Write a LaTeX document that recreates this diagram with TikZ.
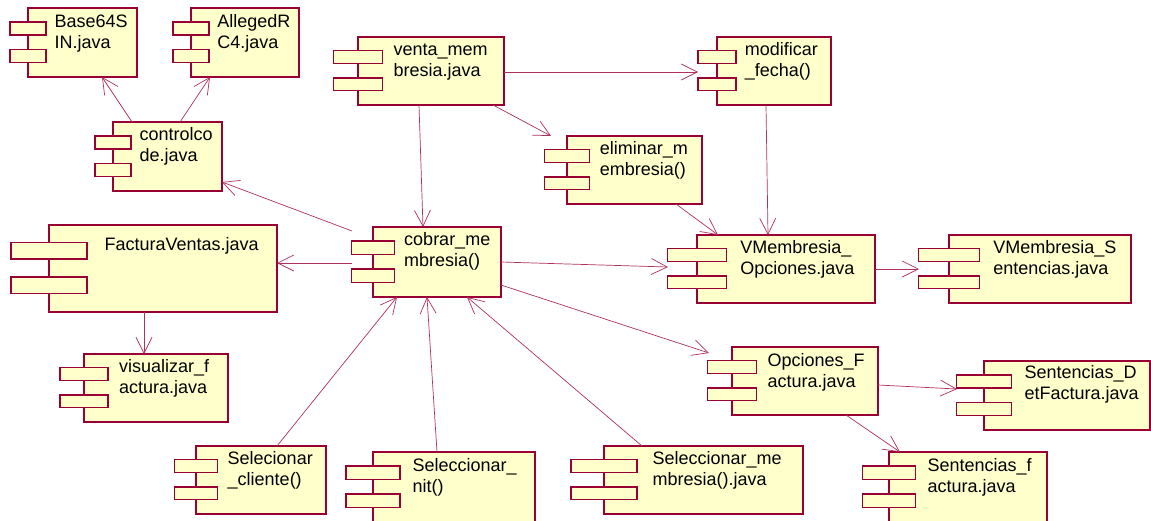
\documentclass[tikz,border=0pt]{standalone}
\usepackage{fontspec}
\setmainfont{Liberation Sans}
\usetikzlibrary{arrows.meta,calc}
\definecolor{rosered}{HTML}{990033}
\definecolor{roseyellow}{HTML}{FFFFCC}
\definecolor{roseline}{HTML}{B0305E}
\tikzset{
 compbox/.style={draw=rosered, fill=roseyellow, line width=1.5pt, inner sep=0pt, outer sep=0pt},
 comptab/.style={draw=rosered, fill=roseyellow, line width=1.5pt},
 complabel/.style={inner sep=0pt, outer sep=0pt, font=\fontsize{18}{21.5}\selectfont, text=black},
 dep/.style={draw=roseline, line width=0.7pt, -{Straight Barb[length=16pt,width=16pt]}},
}
\newcommand\rosecomp[8]{%
 \node[compbox, minimum width=#4pt, minimum height=#5pt, anchor=north west] (#1) at (#2,#3) {};
 \draw[comptab] ($(#1.north west)+({-#4/6},{0.2*#5})$) rectangle ($(#1.north west)+({#4/6},{0.39*#5})$);
 \draw[comptab] ($(#1.north west)+({-#4/6},{0.6*#5})$) rectangle ($(#1.north west)+({#4/6},{0.79*#5})$);
 \node[complabel, anchor=base west] (#1-a) at ($(#1.north west)+({0.244*#4},#6)$) {#7};
 \node[complabel, anchor=base west] (#1-b) at ($(#1.north west)+({0.244*#4},{#6+21.5})$) {#8};
}
\begin{document}
\begin{tikzpicture}[x=1pt,y=-1pt]
\useasboundingbox (0,0) rectangle (1151,520);
\rosecomp{b64}{28}{8}{109}{69}{19}{Base64S}{IN.java}
\rosecomp{arc}{191}{8}{108}{69}{19}{AllegedR}{C4.java}
\rosecomp{cc}{113}{122}{109}{69}{18}{controlco}{de.java}
\rosecomp{venta}{358}{37}{146}{68}{18}{venta\_mem}{bresia.java}
\rosecomp{modif}{717}{37}{114}{68}{18}{modificar}{\_fecha()}
\rosecomp{elim}{567}{136}{135}{68}{18}{eliminar\_m}{embresia()}
\rosecomp{fv}{49}{225}{228}{87}{25}{FacturaVentas.java}{}
\rosecomp{cobrar}{373}{227}{128}{70}{18}{cobrar\_me}{mbresia()}
\rosecomp{visu}{84}{354}{144}{68}{18}{visualizar\_f}{actura.java}
\rosecomp{vmo}{697}{235}{178}{68}{18}{VMembresia\_}{Opciones.java}
\rosecomp{vms}{949}{235}{182}{68}{18}{VMembresia\_S}{entencias.java}
\rosecomp{opf}{732}{347}{146}{68}{19}{Opciones\_F}{actura.java}
\rosecomp{sdf}{984}{361}{166}{69}{17}{Sentencias\_D}{etFactura.java}
\rosecomp{selcli}{196}{446}{130}{68}{18}{Selecionar}{\_cliente()}
\rosecomp{selnit}{373}{452}{162}{70}{19}{Seleccionar\_}{nit()}
\rosecomp{selmem}{604}{446}{199}{68}{18}{Seleccionar\_me}{mbresia().java}
\rosecomp{sf}{889}{452}{158}{70}{19}{Sentencias\_f}{actura.java}

\draw[dep] ($(cc.north west)+(19,0)$) -- ($(b64.north west)+(74,69)$);
\draw[dep] ($(cc.north west)+(67,0)$) -- ($(arc.north west)+(19,69)$);
\draw[dep] ($(cobrar.north west)+(-21,4)$) -- ($(cc.north west)+(109,60)$);
\draw[dep] ($(venta.north west)+(61,68)$) -- ($(cobrar.north west)+(50,0)$);
\draw[dep] ($(venta.north west)+(135,68)$) -- ($(elim.north west)+(-16,0)$);
\draw[dep] ($(venta.north west)+(146,35)$) -- ($(modif.north west)+(-19,35)$);
\draw[dep] ($(modif.north west)+(49,68)$) -- ($(vmo.north west)+(71,0)$);
\draw[dep] ($(elim.north west)+(109,68)$) -- ($(vmo.north west)+(21,0)$);
\draw[dep] ($(cobrar.north west)+(-21,36)$) -- ($(fv.north west)+(228,38)$);
\draw[dep] ($(cobrar.north west)+(128,35)$) -- ($(vmo.north west)+(-29,32)$);
\draw[dep] ($(cobrar.north west)+(128,58)$) -- ($(opf.north west)+(-23,6)$);
\draw[dep] ($(fv.north west)+(95,87)$) -- ($(visu.north west)+(60,0)$);
\draw[dep] ($(selcli.north west)+(81,0)$) -- ($(cobrar.north west)+(24,70)$);
\draw[dep] ($(selnit.north west)+(64,0)$) -- ($(cobrar.north west)+(54,70)$);
\draw[dep] ($(selmem.north west)+(38,0)$) -- ($(cobrar.north west)+(94,70)$);
\draw[dep] ($(vmo.north west)+(178,34)$) -- ($(vms.north west)+(-30,34)$);
\draw[dep] ($(opf.north west)+(146,38)$) -- ($(sdf.north west)+(-27,28)$);
\draw[dep] ($(opf.north west)+(114,68)$) -- ($(sf.north west)+(11,0)$);
\end{tikzpicture}
\end{document}
